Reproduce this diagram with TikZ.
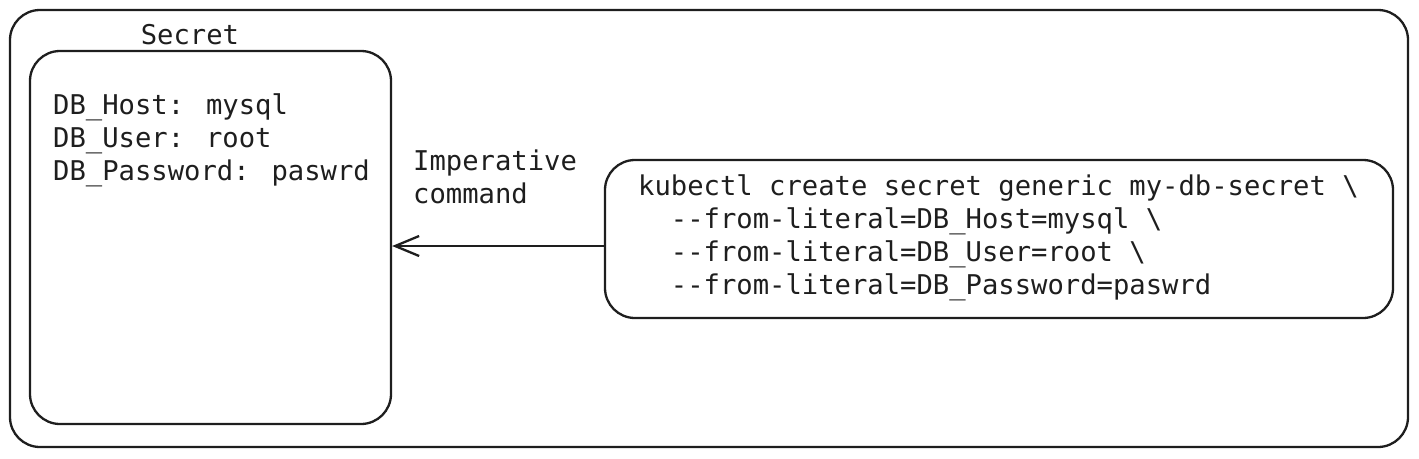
\documentclass[tikz,border=0pt]{standalone}
\usepackage{fontspec}
\newfontfamily\mono{DejaVu Sans Mono}
\usetikzlibrary{arrows.meta}
\definecolor{ink}{HTML}{1E1E1E}
\begin{document}
\begin{tikzpicture}[x=1pt,y=-1pt,
  box/.style={draw=ink, line width=2.3pt, rounded corners=30pt, inner sep=0pt},
  txt/.style={font=\mono\fontsize{27.2pt}{33pt}\selectfont, text=ink, inner sep=0pt, align=left},
  arr/.style={draw=ink, line width=2.3pt, -{Straight Barb[length=24pt, width=20pt, line width=2.3pt]}}]
\useasboundingbox (0,0) rectangle (1419,458);
\node[box, minimum width=1398pt, minimum height=437pt] (outer) at (709,228.5) {};
\node[box, minimum width=361pt, minimum height=373pt] (secret) at (210.5,237.5) {};
\node[box, minimum width=788pt, minimum height=158pt] (cmd) at (999,239) {};
\node[txt] (secretlabel) at (190,35) {Secret};
\node[txt, anchor=west] (secretdata) at (53,140) {DB\_Host: mysql\\DB\_User: root\\DB\_Password: paswrd};
\node[txt, anchor=west] (imp) at (413,177) {Imperative\\command};
\node[txt, anchor=west] (cmdtext) at (638,238) {kubectl create secret generic my-db-secret \textbackslash\\
\phantom{xx}-{}-from-literal=DB\_Host=mysql \textbackslash\\
\phantom{xx}-{}-from-literal=DB\_User=root \textbackslash\\
\phantom{xx}-{}-from-literal=DB\_Password=paswrd};
\coordinate (ay) at (0,246);
\draw[arr] (cmd.west |- ay) -- (secret.east |- ay);
\end{tikzpicture}
\end{document}
